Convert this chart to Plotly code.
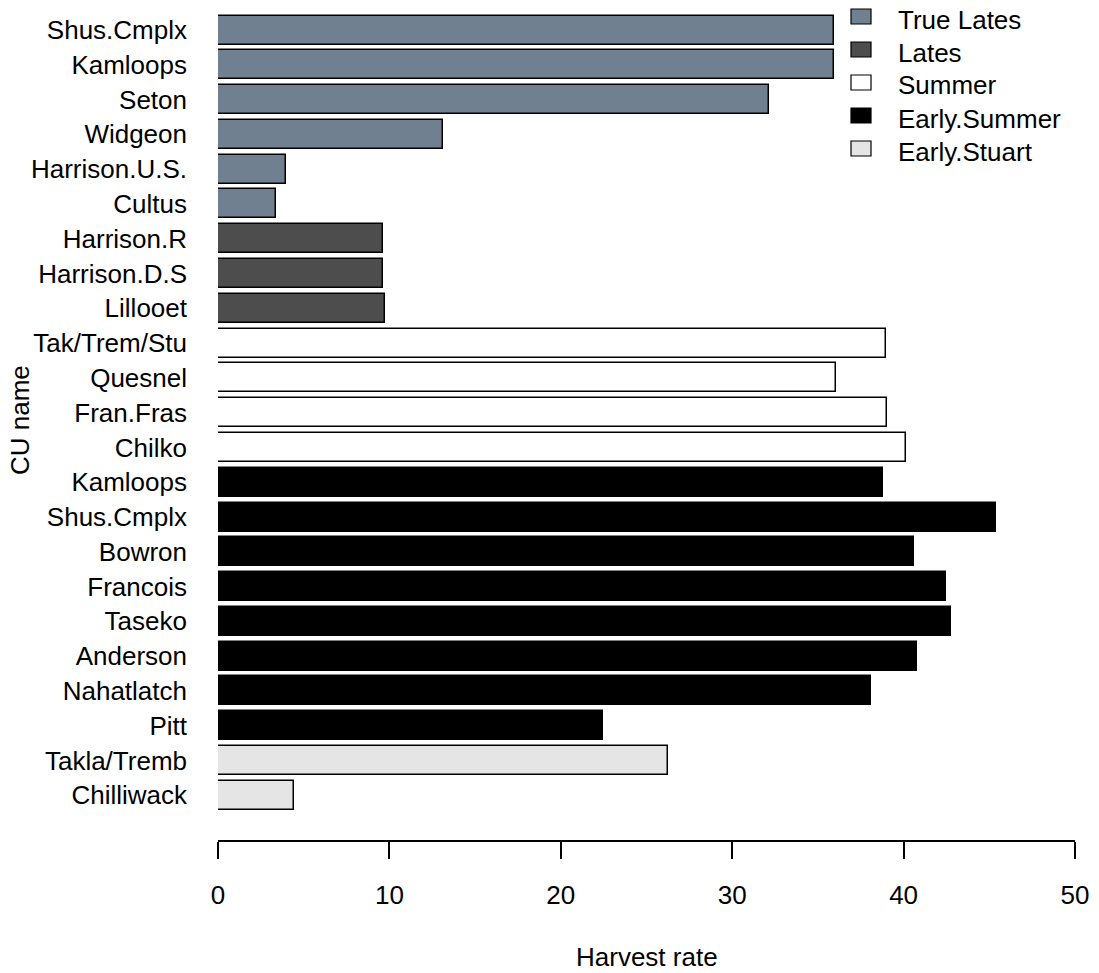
import plotly.graph_objects as go

# Data, listed top to bottom as in the chart
cu_names = ["Shus.Cmplx", "Kamloops", "Seton", "Widgeon", "Harrison.U.S.", "Cultus",
            "Harrison.R", "Harrison.D.S", "Lillooet",
            "Tak/Trem/Stu", "Quesnel", "Fran.Fras", "Chilko",
            "Kamloops", "Shus.Cmplx", "Bowron", "Francois", "Taseko", "Anderson",
            "Nahatlatch", "Pitt",
            "Takla/Tremb", "Chilliwack"]
harvest_rate = [35.96, 35.96, 32.15, 13.1, 3.95, 3.36,
                9.65, 9.65, 9.74,
                38.95, 36.04, 39.05, 40.14,
                38.78, 45.39, 40.59, 42.48, 42.78, 40.78,
                38.08, 22.47,
                26.27, 4.45]
run_timing = ["True Lates"] * 6 + ["Lates"] * 3 + ["Summer"] * 4 + ["Early.Summer"] * 8 + ["Early.Stuart"] * 2

groups = ["True Lates", "Lates", "Summer", "Early.Summer", "Early.Stuart"]
group_colors = {"True Lates": "#708090", "Lates": "#4D4D4D", "Summer": "#FFFFFF",
                "Early.Summer": "#000000", "Early.Stuart": "#E5E5E5"}

FONT = "Liberation Sans, Arial, Helvetica, sans-serif"
FS = 26

W, H = 1099, 973
ML, MR, MT, MB = 218, 24, 0, 133
PW, PH = W - ML - MR, H - MT - MB


def px2paper_x(px):
    return (px - ML) / PW


def px2paper_y(py):
    return (H - MB - py) / PH


n = len(cu_names)
# barplot-style positions: bottom bar index 0, width 1, space 0.2
pos = [0.7 + 1.2 * (n - 1 - i) for i in range(n)]

fig = go.Figure()
for g in groups:
    idx = [i for i in range(n) if run_timing[i] == g]
    fig.add_trace(go.Bar(
        x=[harvest_rate[i] for i in idx],
        y=[pos[i] for i in idx],
        orientation="h",
        width=1.0,
        name=g,
        showlegend=False,
        marker=dict(color=group_colors[g], line=dict(color="black", width=1.5)),
    ))

# manual legend (R-style)
shapes = []
annotations = []
for k, g in enumerate(groups):
    cy = 16.5 + 33 * k
    shapes.append(dict(type="rect", xref="paper", yref="paper",
                       x0=px2paper_x(851), x1=px2paper_x(871),
                       y0=px2paper_y(cy + 7.5), y1=px2paper_y(cy - 7.5),
                       fillcolor=group_colors[g], line=dict(color="black", width=1.2)))
    annotations.append(dict(text=g, xref="paper", yref="paper",
                            x=px2paper_x(896), y=px2paper_y(cy + 3),
                            xanchor="left", yanchor="middle", showarrow=False,
                            font=dict(family=FONT, size=FS)))

annotations += [
    dict(text="CU name", xref="paper", yref="paper", x=px2paper_x(20), y=0.5,
         xanchor="center", yanchor="middle", textangle=-90, showarrow=False,
         font=dict(family=FONT, size=FS)),
    dict(text="Harvest rate", xref="paper", yref="paper", x=0.5, y=px2paper_y(957),
         xanchor="center", yanchor="middle", showarrow=False,
         font=dict(family=FONT, size=FS)),
]

fig.update_layout(
    width=W, height=H,
    margin=dict(l=ML, r=MR, t=MT, b=MB, pad=0),
    paper_bgcolor="white", plot_bgcolor="white",
    font=dict(family=FONT, size=FS, color="black"),
    showlegend=False,
    bargap=0,
    xaxis=dict(range=[0, 50], tickvals=[0, 10, 20, 30, 40, 50],
               showgrid=False, zeroline=False, showline=True, linecolor="black",
               linewidth=1.5, ticks="outside", ticklen=17, tickwidth=1.5,
               tickcolor="black", ticklabelstandoff=14,
               tickfont=dict(family=FONT, size=FS)),
    yaxis=dict(range=[-0.842, 28.135], tickvals=pos, ticktext=cu_names,
               showgrid=False, zeroline=False, showline=False, ticks="",
               ticklabelstandoff=30, tickfont=dict(family=FONT, size=FS)),
    shapes=shapes,
    annotations=annotations,
)

fig.write_html("out.html", config={"displayModeBar": False},
               post_script="document.body.style.margin='0px';document.body.style.overflow='hidden';")
